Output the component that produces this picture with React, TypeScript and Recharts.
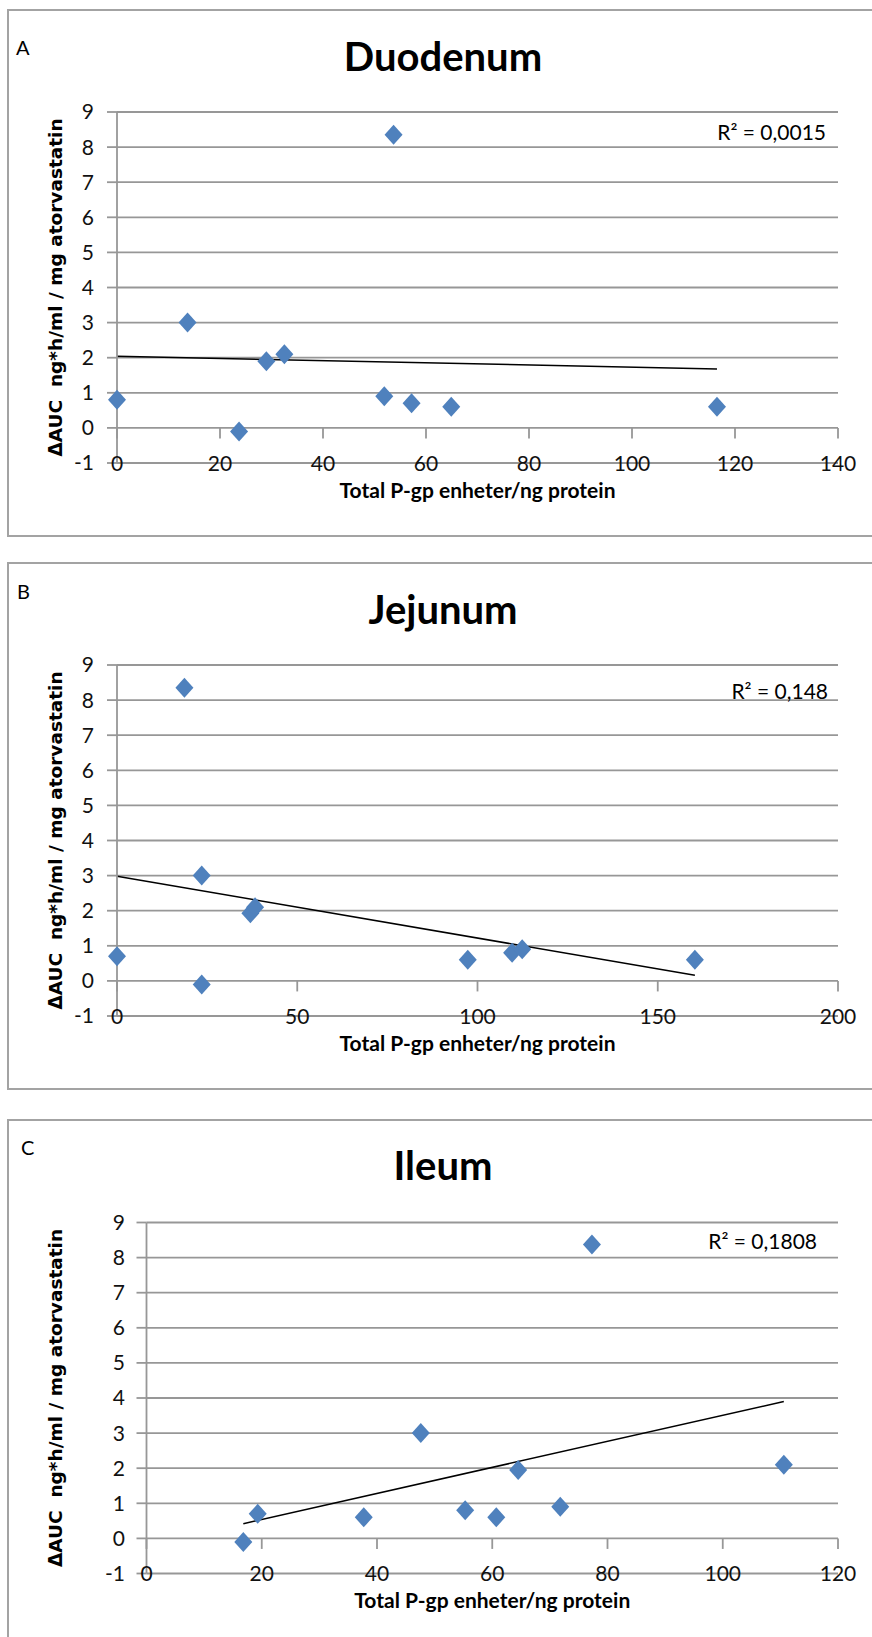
import React from "react";
import {
  CartesianGrid,
  ReferenceLine,
  Scatter,
  ScatterChart,
  XAxis,
  YAxis,
} from "recharts";

// values
const Y_TICKS = [-1, 0, 1, 2, 3, 4, 5, 6, 7, 8, 9];
const Y_TITLE = "ΔAUC\u00a0\u00a0ng*h/ml / mg atorvastatin";
const X_TITLE = "Total P-gp enheter/ng protein";

const duodenumX = [0, 13.7, 23.7, 29.0, 32.5, 51.9, 53.7, 57.2, 64.9, 116.5];
const duodenumY = [0.8, 3.0, -0.1, 1.9, 2.1, 0.9, 8.35, 0.7, 0.6, 0.6];
const duodenumTicks = [0, 20, 40, 60, 80, 100, 120, 140];
const duodenumTrend = [
  { x: 0, y: 2.04 },
  { x: 116.5, y: 1.68 },
];

const jejunumX = [0, 18.7, 23.5, 23.5, 37.0, 38.3, 97.3, 109.6, 112.4, 160.3];
const jejunumY = [0.7, 8.35, 3.0, -0.1, 1.93, 2.1, 0.6, 0.8, 0.9, 0.6];
const jejunumTicks = [0, 50, 100, 150, 200];
const jejunumTrend = [
  { x: 0, y: 2.98 },
  { x: 160.3, y: 0.16 },
];

const ileumX = [16.8, 19.3, 37.7, 47.6, 55.3, 60.7, 64.5, 71.8, 77.3, 110.6];
const ileumY = [-0.1, 0.7, 0.6, 3.0, 0.8, 0.6, 1.95, 0.9, 8.37, 2.1];
const ileumTicks = [0, 20, 40, 60, 80, 100, 120];
const ileumTrend = [
  { x: 16.8, y: 0.42 },
  { x: 110.6, y: 3.9 },
];

const GRID = "#979797";
const BLUE = "#4f81bd";
const FONT = "Lato, 'Open Sans', sans-serif";
const PLOT_H = 351;

function Diamond(props: any) {
  const { cx, cy, fill } = props;
  if (cx == null || cy == null) return null;
  return (
    <polygon
      points={`${cx},${cy - 10} ${cx + 9},${cy} ${cx},${cy + 10} ${cx - 9},${cy}`}
      fill={fill}
    />
  );
}

function XTick(props: any) {
  const { x, y, payload } = props;
  return (
    <text
      x={x}
      y={y}
      dy="0.36em"
      textAnchor="middle"
      fontSize={21}
      fontFamily={FONT}
      fill="#111"
    >
      {payload.value}
    </text>
  );
}

// rotated y title, centred on the plot height
function YTitle(props: any) {
  const vb = props.viewBox || {};
  const cx = (vb.x ?? 0) + 55;
  const cy = (vb.y ?? 0) + (vb.height ?? 0) / 2;
  return (
    <text
      x={cx}
      y={cy}
      transform={`rotate(-90, ${cx}, ${cy})`}
      textAnchor="middle"
      dominantBaseline="central"
      fontSize={18.5}
      fontWeight={700}
      fontFamily="'DejaVu Sans', sans-serif"
      fill="#000"
    >
      {Y_TITLE}
    </text>
  );
}

// text placed so that its cap height is centred on y
function Txt({
  children,
  left,
  width,
  y,
  size,
  bold,
  align = "left",
}: {
  children: React.ReactNode;
  left: number;
  width: number;
  y: number;
  size: number;
  bold?: boolean;
  align?: "left" | "center" | "right";
}) {
  return (
    <div
      style={{
        position: "absolute",
        left,
        width,
        top: y - 0.527 * size,
        fontFamily: FONT,
        fontSize: size,
        lineHeight: 1,
        fontWeight: bold ? 700 : 400,
        textAlign: align,
        whiteSpace: "nowrap",
        color: "#000",
      }}
    >
      {children}
    </div>
  );
}

function Panel({
  letter,
  title,
  xs,
  ys,
  xTicks,
  trend,
  r2,
  frameTop,
  frameHeight,
  plotTop,
  plotLeft,
  yTickMargin,
  titleY,
  letterX,
  letterY,
  r2Right,
  r2Y,
}: {
  letter: string;
  title: string;
  xs: number[];
  ys: number[];
  xTicks: number[];
  trend: { x: number; y: number }[];
  r2: string;
  frameTop: number;
  frameHeight: number;
  plotTop: number;
  plotLeft: number;
  yTickMargin: number;
  titleY: number;
  letterX: number;
  letterY: number;
  r2Right: number;
  r2Y: number;
}) {
  const data = xs.map((x, i) => ({ x, y: ys[i] }));
  const chartTop = frameTop;
  const marginTop = plotTop - chartTop;
  const chartHeight = marginTop + PLOT_H + 60;

  return (
    <>
      <div
        style={{
          position: "absolute",
          left: 7,
          top: frameTop,
          width: 880,
          height: frameHeight,
          border: "2px solid #a3a3a3",
          borderRight: "none",
          boxSizing: "border-box",
        }}
      />
      <div style={{ position: "absolute", left: 0, top: chartTop }}>
        <ScatterChart
          width={872}
          height={chartHeight}
          margin={{ top: marginTop, right: 34, bottom: 0, left: 0 }}
        >
          <CartesianGrid
            vertical={false}
            stroke={GRID}
            strokeWidth={1.8}
          />
          <XAxis
            type="number"
            dataKey="x"
            domain={[xTicks[0], xTicks[xTicks.length - 1]]}
            ticks={xTicks}
            interval={0}
            axisLine={false}
            tickLine={false}
            tickSize={0}
            tickMargin={0}
            height={60}
            tick={<XTick />}
            label={{
              value: X_TITLE,
              position: "insideTop",
              offset: 20,
              fill: "#000",
              fontSize: 21,
              fontWeight: 700,
              fontFamily: FONT,
            }}
          />
          <YAxis
            type="number"
            dataKey="y"
            domain={[-1, 9]}
            ticks={Y_TICKS}
            interval={0}
            width={plotLeft}
            tickSize={10}
            tickMargin={yTickMargin}
            axisLine={{ stroke: GRID, strokeWidth: 1.8 }}
            tickLine={{ stroke: GRID, strokeWidth: 1.8 }}
            tick={{ fill: "#111", fontSize: 21, fontFamily: FONT }}
            label={{ content: <YTitle /> }}
          />
          {xTicks.map((t) => (
            <ReferenceLine
              key={t}
              segment={[
                { x: t, y: 0 },
                { x: t, y: -0.3 },
              ]}
              stroke={GRID}
              strokeWidth={1.8}
              ifOverflow="visible"
            />
          ))}
          <ReferenceLine
            segment={trend}
            stroke="#000"
            strokeWidth={1.5}
            ifOverflow="visible"
          />
          <Scatter
            data={data}
            fill={BLUE}
            shape={<Diamond />}
            isAnimationActive={false}
          />
        </ScatterChart>
      </div>
      <Txt left={letterX} width={40} y={letterY} size={20}>
        {letter}
      </Txt>
      <Txt left={0} width={886} y={titleY} size={40} bold align="center">
        {title}
      </Txt>
      <Txt left={0} width={r2Right} y={r2Y} size={21} align="right">
        {r2}
      </Txt>
    </>
  );
}

export default function App() {
  return (
    <div
      style={{
        position: "absolute",
        left: 0,
        top: 0,
        width: 872,
        height: 1637,
        overflow: "hidden",
        background: "#fff",
      }}
    >
      <Panel
        letter="A"
        title="Duodenum"
        xs={duodenumX}
        ys={duodenumY}
        xTicks={duodenumTicks}
        trend={duodenumTrend}
        r2="R² = 0,0015"
        frameTop={9}
        frameHeight={528}
        plotTop={112}
        plotLeft={117}
        yTickMargin={13}
        titleY={57}
        letterX={16}
        letterY={47.5}
        r2Right={826}
        r2Y={132}
      />
      <Panel
        letter="B"
        title="Jejunum"
        xs={jejunumX}
        ys={jejunumY}
        xTicks={jejunumTicks}
        trend={jejunumTrend}
        r2="R² = 0,148"
        frameTop={562}
        frameHeight={528}
        plotTop={665}
        plotLeft={117}
        yTickMargin={13}
        titleY={610.5}
        letterX={17}
        letterY={592}
        r2Right={828}
        r2Y={691}
      />
      <Panel
        letter="C"
        title="Ileum"
        xs={ileumX}
        ys={ileumY}
        xTicks={ileumTicks}
        trend={ileumTrend}
        r2="R² = 0,1808"
        frameTop={1119}
        frameHeight={540}
        plotTop={1222.5}
        plotLeft={146.5}
        yTickMargin={11.5}
        titleY={1166}
        letterX={21}
        letterY={1148}
        r2Right={817}
        r2Y={1241.5}
      />
    </div>
  );
}
